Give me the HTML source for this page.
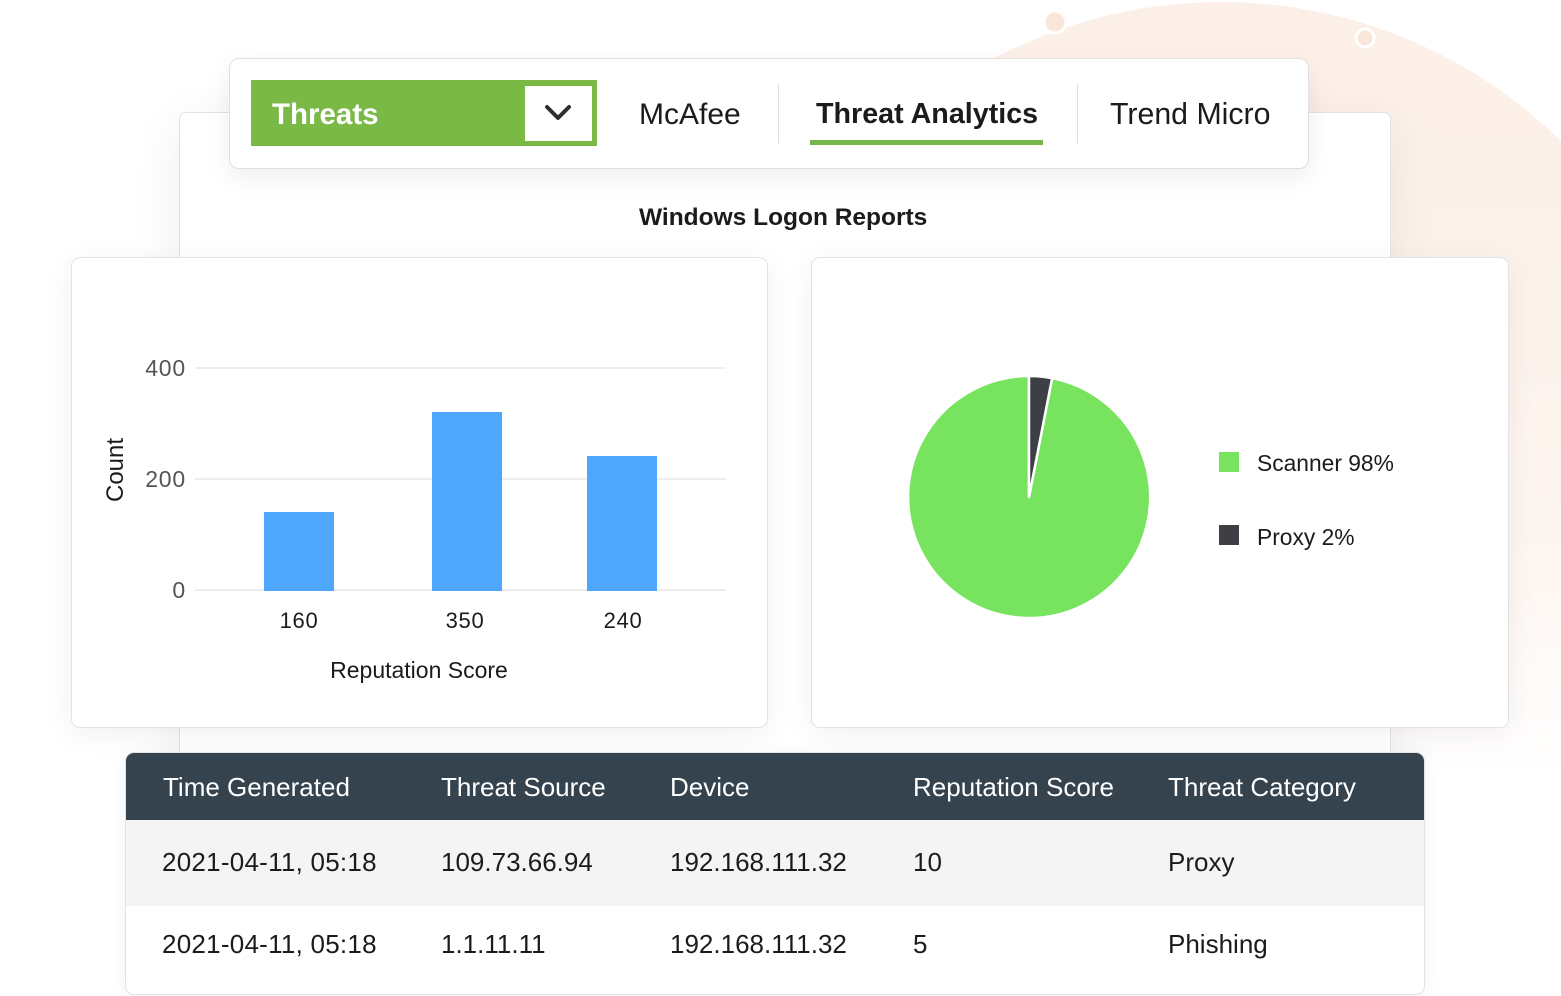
<!DOCTYPE html>
<html>
<head>
<meta charset="utf-8">
<style>
  html,body{margin:0;padding:0;}
  body{width:1561px;height:996px;position:relative;overflow:hidden;background:#ffffff;font-family:"Liberation Sans",Arial,sans-serif;color:#1b1b1b;}
  .abs{position:absolute;}
  .card{position:absolute;background:#fff;border:1px solid #e3e3e3;box-sizing:border-box;}
  .t{position:absolute;white-space:nowrap;line-height:1;}
</style>
</head>
<body>

<!-- background blob -->
<svg class="abs" style="left:0;top:0" width="1561" height="996">
  <defs>
    <linearGradient id="peach" x1="0" y1="0" x2="0" y2="1">
      <stop offset="0" stop-color="#fcefe7"/>
      <stop offset="0.55" stop-color="#fdf5f0"/>
      <stop offset="0.8" stop-color="#ffffff"/>
    </linearGradient>
  </defs>
  <circle cx="1221" cy="487" r="485" fill="url(#peach)"/>
  <circle cx="1055" cy="22" r="11" fill="#fbe6dc" stroke="#ffffff" stroke-width="3"/>
  <circle cx="1365" cy="38" r="9" fill="#fbe6dc" stroke="#ffffff" stroke-width="3"/>
</svg>

<!-- back panel -->
<div class="card" style="left:179px;top:112px;width:1212px;height:680px;border-radius:7px;box-shadow:0 10px 50px rgba(0,0,0,0.07);"></div>

<!-- tab bar -->
<div class="card" style="left:229px;top:58px;width:1080px;height:111px;border-radius:10px;border-color:#e0e0e0;box-shadow:0 8px 26px rgba(0,0,0,0.07);"></div>
<div class="abs" style="left:251px;top:80px;width:346px;height:66px;background:#7bb947;"></div>
<div class="abs" style="left:525px;top:86px;width:67px;height:55px;background:#ffffff;"></div>
<svg class="abs" style="left:540px;top:100px" width="36" height="26">
  <polyline points="7,7 18,18 29,7" fill="none" stroke="#2e2e2e" stroke-width="4" stroke-linecap="round" stroke-linejoin="round"/>
</svg>
<div class="t" style="left:272px;top:100px;font-size:29.5px;font-weight:bold;color:#ffffff;height:30px;">Threats</div>
<div class="t" style="left:639px;top:100px;font-size:30px;color:#1b1b1b;">McAfee</div>
<div class="abs" style="left:778px;top:84px;width:1px;height:59px;background:#dddddd;"></div>
<div class="t" style="left:816px;top:100px;font-size:28.7px;font-weight:bold;color:#1b1b1b;">Threat Analytics</div>
<div class="abs" style="left:810px;top:140px;width:233px;height:5px;background:#77b64a;"></div>
<div class="abs" style="left:1077px;top:84px;width:1px;height:59px;background:#dddddd;"></div>
<div class="t" style="left:1110px;top:100px;font-size:30.3px;color:#1b1b1b;">Trend Micro</div>

<!-- title -->
<div class="t" style="left:639px;top:206px;font-size:24.5px;font-weight:bold;color:#1b1b1b;">Windows Logon Reports</div>

<!-- chart cards -->
<div class="card" style="left:71px;top:257px;width:697px;height:471px;border-radius:9px;box-shadow:0 6px 30px rgba(0,0,0,0.06);"></div>
<div class="card" style="left:811px;top:257px;width:698px;height:471px;border-radius:9px;box-shadow:0 6px 30px rgba(0,0,0,0.06);"></div>

<svg class="abs" style="left:0;top:0" width="1561" height="996">
  <!-- grid -->
  <line x1="195" y1="368" x2="726" y2="368" stroke="#e8e8e8" stroke-width="1.5"/>
  <line x1="195" y1="479" x2="726" y2="479" stroke="#e8e8e8" stroke-width="1.5"/>
  <line x1="195" y1="590" x2="726" y2="590" stroke="#e8e8e8" stroke-width="1.5"/>
  <!-- bars -->
  <rect x="264" y="512" width="70" height="79" fill="#4ea7fc"/>
  <rect x="432" y="412" width="70" height="179" fill="#4ea7fc"/>
  <rect x="587" y="456" width="70" height="135" fill="#4ea7fc"/>
  <!-- y labels -->
  <g font-family="Liberation Sans, Arial, sans-serif" font-size="23" fill="#555" text-anchor="end" letter-spacing="0.8">
    <text x="186" y="376">400</text>
    <text x="186" y="487">200</text>
    <text x="186" y="598">0</text>
  </g>
  <g font-family="Liberation Sans, Arial, sans-serif" font-size="22" fill="#1b1b1b" text-anchor="middle" letter-spacing="0.7">
    <text x="299" y="628">160</text>
    <text x="465" y="628">350</text>
    <text x="623" y="628">240</text>
  </g>
  <text x="419" y="678" font-family="Liberation Sans, Arial, sans-serif" font-size="23" fill="#1b1b1b" text-anchor="middle">Reputation Score</text>
  <text transform="translate(123,470) rotate(-90)" font-family="Liberation Sans, Arial, sans-serif" font-size="24" fill="#1b1b1b" text-anchor="middle">Count</text>

  <!-- pie -->
  <path d="M1029,497 L1052.1,378.2 A121,121 0 1,1 1029,376 Z" fill="#77e35f" stroke="#ffffff" stroke-width="2.5" stroke-linejoin="round"/>
  <path d="M1029,497 L1029,376 A121,121 0 0,1 1052.1,378.2 Z" fill="#3d3f45" stroke="#ffffff" stroke-width="2.5" stroke-linejoin="round"/>

  <!-- legend -->
  <rect x="1219" y="452" width="20" height="20" fill="#77e35f"/>
  <rect x="1219" y="525" width="20" height="20" fill="#3d3f45"/>
  <g font-family="Liberation Sans, Arial, sans-serif" font-size="22.8" fill="#1b1b1b">
    <text x="1257" y="471">Scanner 98%</text>
    <text x="1257" y="545">Proxy 2%</text>
  </g>
</svg>

<!-- table -->
<div class="card" style="left:125px;top:752px;width:1300px;height:243px;border-radius:9px;border-color:#e2e2e2;overflow:hidden;box-shadow:0 4px 20px rgba(0,0,0,0.05);">
  <div class="abs" style="left:0;top:0;width:1300px;height:67px;background:#34434e;"></div>
  <div class="abs" style="left:0;top:67px;width:1300px;height:86px;background:#f4f4f4;"></div>
</div>
<div style="position:absolute;left:0;top:0;font-size:26px;">
  <div class="t" style="left:163px;top:774px;color:#ffffff;font-size:26px;">Time Generated</div>
  <div class="t" style="left:441px;top:774px;color:#ffffff;font-size:26px;">Threat Source</div>
  <div class="t" style="left:670px;top:774px;color:#ffffff;font-size:26px;">Device</div>
  <div class="t" style="left:913px;top:774px;color:#ffffff;font-size:26px;">Reputation Score</div>
  <div class="t" style="left:1168px;top:774px;color:#ffffff;font-size:26px;">Threat Category</div>

  <div class="t" style="left:162px;top:849px;font-size:26px;letter-spacing:0.25px;">2021-04-11, 05:18</div>
  <div class="t" style="left:441px;top:849px;font-size:26px;">109.73.66.94</div>
  <div class="t" style="left:670px;top:849px;font-size:26px;">192.168.111.32</div>
  <div class="t" style="left:913px;top:849px;font-size:26px;">10</div>
  <div class="t" style="left:1168px;top:849px;font-size:26px;">Proxy</div>

  <div class="t" style="left:162px;top:931px;font-size:26px;letter-spacing:0.25px;">2021-04-11, 05:18</div>
  <div class="t" style="left:441px;top:931px;font-size:26px;">1.1.11.11</div>
  <div class="t" style="left:670px;top:931px;font-size:26px;">192.168.111.32</div>
  <div class="t" style="left:913px;top:931px;font-size:26px;">5</div>
  <div class="t" style="left:1168px;top:931px;font-size:26px;">Phishing</div>
</div>

</body>
</html>
